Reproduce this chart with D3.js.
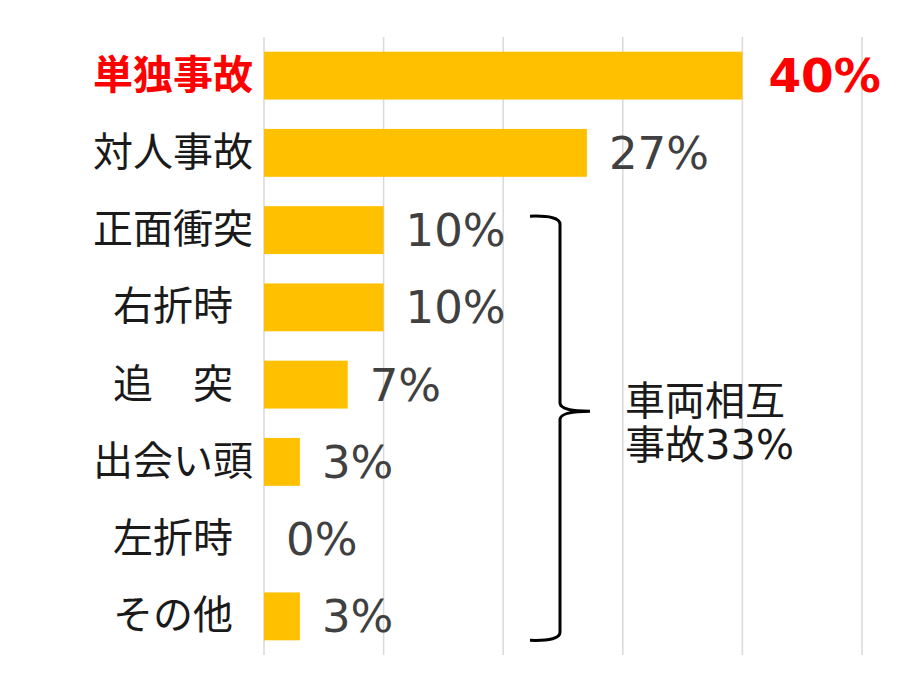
<!DOCTYPE html>
<html>
<head>
<meta charset="utf-8">
<script src="https://cdn.jsdelivr.net/npm/d3@7"></script>
<style>
  body { margin: 0; background: #fff; }
  text { font-family: "Noto Sans CJK JP", "Noto Sans", sans-serif; }
  .num { font-family: "DejaVu Sans", "Noto Sans CJK JP", sans-serif; }
</style>
</head>
<body>
<svg width="900" height="693"></svg>
<script>
// data
const categories = ['単独事故', '対人事故', '正面衝突', '右折時', '追\u3000突', '出会い頭', '左折時', 'その他'];
const values = [40, 27, 10, 10, 7, 3, 0, 3];
const gridTicks = [0, 10, 20, 30, 40, 50];
const groupLabel = ['車両相互', '事故33%'];
const groupFrom = '正面衝突';
const groupTo = 'その他';

const data = categories.map((c, i) => ({cat: c, val: values[i]}));

const svg = d3.select('svg');

const xScale = d3.scaleLinear()
    .domain([0, 50])
    .range([264, 862]);

const yScale = d3.scaleBand()
    .domain(categories)
    .range([37, 655])
    .paddingInner(0.38)
    .paddingOuter(0.19);

const yMid = d => yScale(d.cat) + yScale.bandwidth() / 2;

// gridlines
svg.append('g').selectAll('line').data(gridTicks)
  .enter().append('line')
    .attr('x1', d => xScale(d))
    .attr('x2', d => xScale(d))
    .attr('y1', 37)
    .attr('y2', 655)
    .attr('stroke', '#d9d9d9')
    .attr('stroke-width', 1.5);

// bars
svg.append('g').selectAll('rect').data(data)
  .enter().append('rect')
    .attr('x', xScale(0))
    .attr('y', d => yScale(d.cat))
    .attr('width', d => xScale(d.val) - xScale(0))
    .attr('height', yScale.bandwidth())
    .attr('fill', '#ffc000');

// category labels
svg.append('g').selectAll('text').data(data)
  .enter().append('text')
    .attr('x', 173)
    .attr('y', d => yMid(d) - 4)
    .attr('text-anchor', 'middle')
    .attr('dominant-baseline', 'central')
    .attr('font-size', 40)
    .attr('font-weight', (d, i) => i === 0 ? 'bold' : 'normal')
    .attr('fill', (d, i) => i === 0 ? '#ff0000' : '#1a1a1a')
    .text(d => d.cat);

// value labels
svg.append('g').selectAll('text').data(data)
  .enter().append('text')
    .attr('class', 'num')
    .attr('x', (d, i) => xScale(d.val) + (i === 0 ? 26 : 22))
    .attr('y', d => yMid(d) + 16)
    .attr('font-size', (d, i) => i === 0 ? 47 : 45)
    .attr('font-weight', (d, i) => i === 0 ? 'bold' : 'normal')
    .attr('fill', (d, i) => i === 0 ? '#ff0000' : '#404040')
    .text(d => d.val + '%');

// bracket for vehicle-to-vehicle group
const bTop = yScale(groupFrom) + 10;
const bBot = yScale(groupTo) + yScale.bandwidth();
const bMid = bTop + (bBot - bTop) * 0.46;
const bx = 560, bl = 530, tip = 590;
const bracket = d3.path();
bracket.moveTo(bl, bTop);
bracket.quadraticCurveTo(bx, bTop - 1, bx, bTop + 8);
bracket.lineTo(bx, bMid - 8);
bracket.quadraticCurveTo(bx + 1, bMid, tip, bMid);
bracket.quadraticCurveTo(bx + 1, bMid, bx, bMid + 8);
bracket.lineTo(bx, bBot - 8);
bracket.quadraticCurveTo(bx, bBot + 1, bl, bBot);
svg.append('path')
    .attr('d', bracket.toString())
    .attr('fill', 'none')
    .attr('stroke', '#000')
    .attr('stroke-width', 3);

svg.append('g').selectAll('text').data(groupLabel)
  .enter().append('text')
    .attr('class', 'num')
    .attr('x', 625)
    .attr('y', (d, i) => bMid + 4 + i * 44)
    .attr('font-size', 40)
    .attr('fill', '#1a1a1a')
    .text(d => d);
</script>
</body>
</html>
